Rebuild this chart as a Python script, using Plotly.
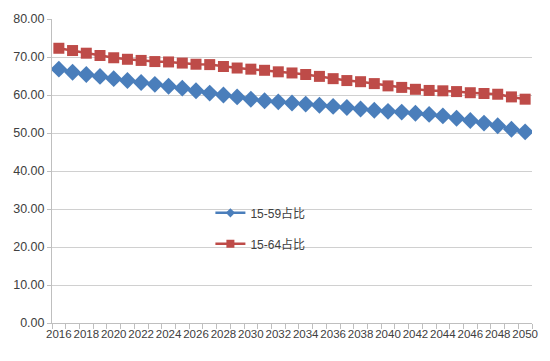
import plotly.graph_objects as go

years = list(range(2016, 2051))
share_15_59 = [66.8, 66.0, 65.4, 64.9, 64.3, 63.8, 63.3, 62.8, 62.3, 61.8, 61.1,
               60.5, 60.0, 59.5, 58.9, 58.5, 58.2, 57.9, 57.6, 57.3, 57.0, 56.7,
               56.3, 56.0, 55.7, 55.5, 55.2, 54.9, 54.5, 53.9, 53.3, 52.6, 51.9, 51.0, 50.3]
share_15_64 = [72.3, 71.7, 71.0, 70.4, 69.8, 69.4, 69.1, 68.8, 68.7, 68.4, 68.1,
               68.0, 67.5, 67.1, 66.8, 66.5, 66.1, 65.8, 65.4, 64.9, 64.3, 63.8,
               63.5, 63.0, 62.4, 62.0, 61.5, 61.2, 61.1, 60.9, 60.6, 60.4, 60.2, 59.5, 58.9]
names = ["15-59占比", "15-64占比"]
y_ticks = [0, 10, 20, 30, 40, 50, 60, 70, 80]
colors = ["#4A7EBB", "#BE4B48"]
symbols = ["diamond", "square"]
sizes = [13, 11]

fig = go.Figure()
for vals, name, col, sym, sz, grp in zip([share_15_59, share_15_64], names, colors, symbols, sizes, ["a", "b"]):
    fig.add_trace(go.Scatter(x=years, y=vals, name=name, mode="lines+markers",
                             line=dict(color=col, width=2.5),
                             marker=dict(symbol=sym, size=sz, color=col),
                             legendgroup=grp, showlegend=False))
    # legend-only entry with a smaller marker, like the original
    fig.add_trace(go.Scatter(x=[None], y=[None], name=name, mode="lines+markers",
                             line=dict(color=col, width=2.5),
                             marker=dict(symbol=sym, size=7 if sym == "diamond" else 8, color=col),
                             legendgroup=grp, showlegend=True))

font_family = "Liberation Sans Narrow, Liberation Sans, Arial, Noto Sans CJK SC"
fig.update_layout(
    width=550, height=361,
    margin=dict(l=52, r=13, t=14, b=38),
    paper_bgcolor="white", plot_bgcolor="white",
    font=dict(family=font_family, size=12, color="#404040"),
    showlegend=True,
    legend=dict(x=0.33, y=0.41, xanchor="left", yanchor="top",
                bgcolor="rgba(0,0,0,0)", tracegroupgap=12,
                font=dict(size=12, color="#404040"), itemwidth=30),
)
fig.update_xaxes(
    type="linear", range=[2015.5, 2050.5],
    tickvals=[y for y in years if y % 2 == 0],
    ticktext=[str(y) for y in years if y % 2 == 0],
    tickangle=0,
    ticks="", showgrid=False, zeroline=False,
    showline=True, linecolor="#BFBFBF", linewidth=1,
    tickfont=dict(size=11.5, color="#404040"),
    minor=dict(tickvals=[y - 0.5 for y in years] + [2050.5], ticks="outside",
               ticklen=5, tickcolor="#BFBFBF", showgrid=False),
)
fig.update_yaxes(
    range=[0, 80], tickvals=y_ticks, tickformat=".2f",
    showgrid=True, gridcolor="#D0D0D0", gridwidth=1,
    zeroline=False, showline=True, linecolor="#BFBFBF", linewidth=1,
    ticks="outside", ticklen=4, tickcolor="#BFBFBF",
    tickfont=dict(size=12.5, color="#404040"),
)
fig.write_html("out.html", config={"displayModeBar": False},
               post_script="document.body.style.margin='0';")
